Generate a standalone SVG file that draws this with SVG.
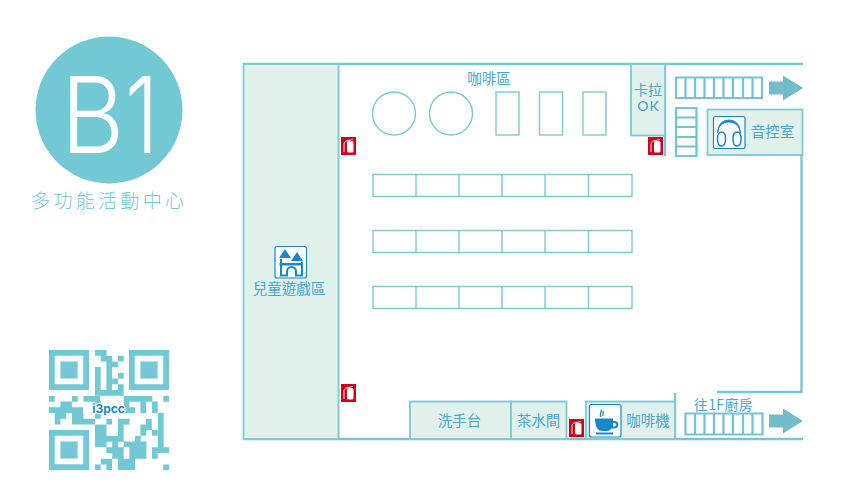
<svg xmlns="http://www.w3.org/2000/svg" width="863" height="500" viewBox="0 0 863 500">
<style>
.room{fill:#e0f0ea;stroke:#7bcbd4;stroke-width:1.800}
.wall{fill:none;stroke:#74c8d3;stroke-width:2.400}
.f{fill:none;stroke:#7bcbd4;stroke-width:1.400}
.st{fill:none;stroke:#74c4cf;stroke-width:2.200}
.t{font-family:"Noto Sans CJK TC","Noto Sans",sans-serif;font-size:14.500px;fill:#4aa5d2;text-anchor:middle}
.arrow{fill:#72bdc9}
.ib{fill:#fff;stroke:#1b87cb;stroke-width:1.200}
.ic{fill:#1b87cb}
.ext{fill:#d0021b}
.extb{fill:#fff}
</style>
<defs>
<g id="ex"><rect width="15" height="18" class="ext"/><rect x="6" y="4" width="6.500" height="11.500" rx="1.500" class="extb"/><path d="M5 4L12 2.500M3 15L3 6 5 4" stroke="#fff" fill="none" stroke-width="0.900"/></g>
</defs>
<g id="title">
<circle cx="109" cy="110" r="73.500" fill="#72c8d3"/>
<text transform="translate(61 153) scale(.92 1)" font-family="Inter,sans-serif" font-weight="300" font-size="106" fill="#fff">B</text>
<text transform="translate(125 153) scale(.8 1)" font-family="Inter,sans-serif" font-weight="300" font-size="106" fill="#fff">1</text>
<text x="109.200" y="208" font-family="'Noto Sans CJK TC',sans-serif" font-weight="300" font-size="19" letter-spacing="3.300" fill="#72c8d3" text-anchor="middle">多功能活動中心</text>
</g>
<g id="qr">
<path fill="#72c8d3" fill-rule="evenodd" d="M49 350h40v40h-40zM54.700 355.700v28.600h28.600v-28.600zM60.400 361.400h17.200v17.200h-17.200zM129 350h40v40h-40zM134.700 355.700v28.600h28.600v-28.600zM140.400 361.400h17.200v17.200h-17.200zM49 430h40v40h-40zM54.700 435.700v28.600h28.600v-28.600zM60.400 441.400h17.200v17.200h-17.200z"/>
<path fill="#72c8d3" d="M95 350h11.500v5.700h-11.500zM100.700 355.700h11.500v5.700h-11.500zM118 355.700h5.700v5.700h-5.700zM106.400 361.400h11.500v5.700h-11.500zM95 367h5.700v23h-5.700zM106.400 367h5.700v23h-5.700zM118 373h5.700v5.700h-5.700zM112.200 378.500h5.700v5.700h-5.700zM118 384.200h5.700v5.700h-5.700zM95 390h28.700v5.700h-28.700zM49 396h5.700v5.700h-5.700zM72 396h5.700v5.700h-5.700zM83.500 396h17.200v5.700h-17.200zM123.700 396h28.600v5.700h-28.600zM163.300 396h5.700v5.700h-5.700zM60.400 401.500h11.500v5.700h-11.500zM95 401.500h5.700v5.700h-5.700zM123.700 401.500h5.700v5.700h-5.700zM140.400 401.500h5.700v11.500h-5.700zM152 401.500h5.700v11.500h-5.700zM49 407.300h34v5.700h-34zM123.700 407.300h11.500v5.700h-11.500zM54.700 413h11.500v5.700h-11.500zM72 413h11.500v5.700h-11.500zM95 413h5.700v5.700h-5.700zM158 413h5.700v23h-5.700zM54.700 418.700h5.700v5.700h-5.700zM72 418.700h23v5.700h-23zM106.400 418.700h5.700v5.700h-5.700zM118 418.700h11.500v5.700h-11.500zM146 418.700h5.700v5.700h-5.700zM95 424.500h11.500v11.500h-11.500zM118 424.500h5.700v11.500h-5.700zM140.400 424.500h11.500v5.700h-11.500zM140.400 430h5.700v5.700h-5.700zM152 430h5.700v5.700h-5.700zM95 436h28.700v5.700h-28.700zM135 436h5.700v5.700h-5.700zM95 441.500h11.500v5.700h-11.500zM112.200 441.500h5.700v5.700h-5.700zM123.700 441.500h22.800v5.700h-22.800zM158 436h5.700v17h-5.700zM106.400 447.300h17.300v5.700h-17.300zM129.400 447.300h17v5.700h-17zM152 447.300h17v5.700h-17zM112.200 453h11.500v5.700h-11.500zM129.400 453h17v5.700h-17zM152 453h5.700v5.700h-5.700zM100.700 458.700h11.500v5.700h-11.500zM118 458.700h17v5.700h-17zM95 464.400h5.700v5.700h-5.700zM106.400 464.400h5.700v5.700h-5.700zM118 464.400h17v5.700h-17zM163.300 464.400h5.700v5.700h-5.700z"/>
<rect x="100" y="396" width="13" height="5" fill="#fff"/>
<text x="108.500" y="413" font-family="Inter,'Liberation Sans',sans-serif" font-weight="700" font-size="12" fill="#1b87cb" stroke="#fff" stroke-width="2" paint-order="stroke" text-anchor="middle">i3pcc</text>
</g>
<g id="connectors">
<path class="wall" d="M243 64H803M338 64V439M243 439H803M801.500 155V392H717M675 393V439M665 64V156"/>
</g>
<g id="kids"><rect x="243.500" y="64" width="95" height="375" class="room"/>
<rect x="275" y="246.500" width="31.500" height="31.500" rx="2" class="ib"/>
<path class="ic" d="M279 258l6-9 6 9zM291 261l6-9 6 9zM279.500 263h23.500v2.500h-23.500z"/>
<path d="M281 259v16.500h6v-4a4.500 4.500 0 0 1 9 0v4h6v-14" fill="none" stroke="#1b87cb" stroke-width="2"/>
<text x="289" y="293.500" class="t">兒童遊戲區</text></g>
<g id="cafe"><text x="489" y="84" class="t">咖啡區</text>
<g class="f"><circle cx="394" cy="113.500" r="21.500"/><circle cx="451" cy="113.500" r="21.500"/><rect x="496" y="92" width="23" height="43"/><rect x="539.500" y="92" width="23" height="43"/><rect x="583" y="92" width="23" height="43"/></g></g>
<g id="tables" class="f">
<path d="M373 174.500h259v22h-259zM416 174.500v22M459 174.500v22M502 174.500v22M545 174.500v22M588.500 174.500v22"/>
<path d="M373 230.500h259v22h-259zM416 230.500v22M459 230.500v22M502 230.500v22M545 230.500v22M588.500 230.500v22"/>
<path d="M373 286.500h259v22h-259zM416 286.500v22M459 286.500v22M502 286.500v22M545 286.500v22M588.500 286.500v22"/>
</g>
<g id="karaoke"><rect x="631" y="64" width="34" height="71.500" class="room"/><text x="648" y="95" class="t" style="font-size:14px">卡拉</text><text x="648.500" y="111" text-anchor="middle" font-family="Lato,sans-serif" font-size="14" letter-spacing="1" fill="#3d9fcf">OK</text></g>
<g id="stairs-top"><path class="st" d="M676 77.500h86v20.500h-86zM685.500 77.500v20.500M695 77.500v20.500M704.500 77.500v20.500M714 77.500v20.500M723.500 77.500v20.500M733 77.500v20.500M743 77.500v20.500M752.500 77.500v20.500"/>
<path class="arrow" d="M769 81.500h14v-6l20 12.500-20 12.500v-6h-14z"/></g>
<g id="stairs-side"><path class="st" d="M676 108h20.500v48h-20.500zM676 117.500h20.500M676 127h20.500M676 137h20.500M676 146.500h20.500"/></g>
<g id="sound"><rect x="707.500" y="109.500" width="95" height="45.500" class="room"/>
<rect x="713.500" y="116.500" width="31.500" height="32" rx="2" class="ib"/>
<path d="M717.500 133l1-4a10.500 9 0 0 1 21 0l1 4c-1-7-5-11-11.500-11s-11 4-11.500 11z" fill="#1b87cb" stroke="#1b87cb" stroke-width="1"/>
<path d="M721.500 132c-3 0-4 3-4 7s1 7 4 7 4-3 4-7-1-7-4-7zM737 132c-3 0-4 3-4 7s1 7 4 7 4-3 4-7-1-7-4-7z" fill="#fff" stroke="#1b87cb" stroke-width="1.500"/>
<text x="772.500" y="137" class="t">音控室</text></g>
<g id="sinks"><rect x="410" y="401.500" width="101" height="37.500" class="room"/><text x="459.500" y="426" class="t">洗手台</text></g>
<g id="pantry"><rect x="511" y="401.500" width="55.500" height="37.500" class="room"/><text x="538.500" y="426" class="t">茶水間</text></g>
<g id="coffee"><rect x="586" y="401.500" width="89" height="37.500" class="room"/>
<rect x="589.500" y="404.500" width="31.500" height="32.500" rx="2" class="ib"/>
<path class="ic" d="M595 418.500h18v2.500h1.500a3.500 3.500 0 0 1 0 7.500h-3c-1 1.500-2.500 2.500-4.500 2.500h-5c-4 0-7-4-7-12.500zM613 423v3.500h1.500a1.750 1.750 0 0 0 0-3.500zM596 432.500h17v2h-17z" fill-rule="evenodd"/>
<path d="M601 417c-2.500-3 1.500-5 0-7.500M603 416c-1-2 1-3 0-5" fill="none" stroke="#1b87cb" stroke-width="1.300"/>
<text x="648" y="426" class="t">咖啡機</text></g>
<g id="stairs-bottom"><text x="723.500" y="410" class="t" style="font-size:14px" letter-spacing="0.400">往1F廚房</text>
<path class="st" d="M685.500 413.500h77v21h-77zM695 413.500v21M704.500 413.500v21M714 413.500v21M723.500 413.500v21M733 413.500v21M743 413.500v21M752.500 413.500v21"/>
<path class="arrow" d="M769 414.500h14v-6l20 12.500-20 12.500v-6h-14z"/></g>
<g id="extinguishers"><use href="#ex" x="341" y="137"/><use href="#ex" x="648" y="137"/><use href="#ex" x="341" y="384"/><use href="#ex" x="569" y="419"/></g>
</svg>
